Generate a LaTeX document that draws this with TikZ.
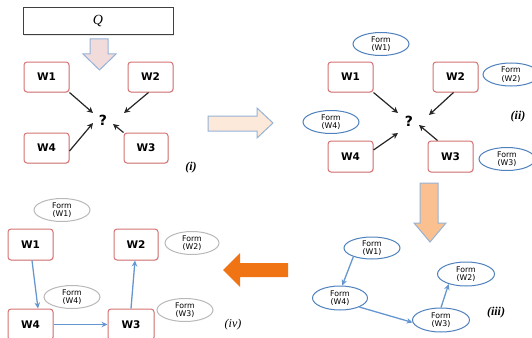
\documentclass[tikz,border=0pt]{standalone}
\usepackage{fontspec}
\setmainfont{Liberation Serif}
\newfontfamily\dvs{DejaVu Sans}
\usetikzlibrary{arrows.meta,calc,shadows,shapes.geometric}
\definecolor{boxred}{RGB}{215,115,115}
\definecolor{formblue}{RGB}{79,129,189}
\definecolor{connblue}{RGB}{102,150,208}
\definecolor{outblue}{RGB}{149,179,215}
\definecolor{pinkfill}{RGB}{242,220,219}
\definecolor{peachlt}{RGB}{253,233,217}
\definecolor{peach}{RGB}{250,192,144}
\definecolor{orng}{RGB}{240,115,20}
\tikzset{
  wbox/.style={draw=boxred, line width=1pt, fill=white, rounded corners=3pt,
    minimum width=45pt, minimum height=30pt, inner sep=0pt,
    font=\dvs\bfseries\fontsize{10.5}{12}\selectfont,
    drop shadow={shadow xshift=0.8pt, shadow yshift=-0.8pt, opacity=0.2}},
  formb/.style={ellipse, draw=formblue, line width=1pt, fill=white,
    minimum width=56pt, minimum height=23pt, inner sep=0pt, align=center,
    font=\dvs\fontsize{7.8}{8.6}\selectfont},
  formg/.style={formb, draw=gray!55},
  blk/.style={-{Stealth[length=6pt,width=6pt]}, line width=1.2pt, black!85},
  blu/.style={-{Stealth[length=6pt,width=5.5pt]}, line width=1.3pt, connblue},
  qmark/.style={font=\dvs\bfseries\fontsize{14}{15}\selectfont, inner sep=0pt},
  lab/.style={font=\itshape\fontsize{12}{13}\selectfont, inner sep=0pt},
  blabel/.style={lab, font=\bfseries\itshape\fontsize{12}{13}\selectfont},
  blockarrow/.style={line width=1pt, draw=outblue, line join=miter}
}
\begin{document}
\begin{tikzpicture}[x=1pt,y=-1pt]
\useasboundingbox (0,0) rectangle (532,337);

% ---------- panel (i) ----------
\node[draw=black!75, line width=1pt, fill=white, minimum width=150pt, minimum height=27pt,
  inner sep=0pt, font=\itshape\fontsize{14}{15}\selectfont,
  drop shadow={shadow xshift=0.8pt, shadow yshift=-0.8pt, opacity=0.2}] (Q) at (98,21.5) {Q};
\filldraw[blockarrow, fill=pinkfill] (90,39) -- (108,39) -- (108,54) -- (116,54) -- (99.5,70)
  -- (83,54) -- (90,54) -- cycle;
\node[wbox] (W1i) at (46.5,77) {W1};
\node[wbox] (W2i) at (150.5,77) {W2};
\node[wbox] (W4i) at (46.5,148) {W4};
\node[wbox, minimum width=44pt] (W3i) at (146,148) {W3};
\node[qmark] (qi) at (103,120) {?};
\draw[blk] (W1i.south east) -- ($(qi)+(-10,-7)$);
\draw[blk] ($(W2i.south)+(-2,0)$) -- ($(qi)+(21,-7)$);
\draw[blk] ($(W4i.east)+(0,3)$) -- ($(qi)+(-10,3)$);
\draw[blk] (W3i.north west) -- ($(qi)+(10,4)$);
\node[blabel] (li) at (191,168) {(i)};

% arrow (i) -> (ii)
\filldraw[blockarrow, fill=peachlt] (208,116) -- (257,116) -- (257,108) -- (273,123)
  -- (257,138) -- (257,131) -- (208,131) -- cycle;

% ---------- panel (ii) ----------
\node[formb] (FW1ii) at (381,44) {Form\\(W1)};
\node[wbox] (W1ii) at (350.5,77) {W1};
\node[wbox] (W2ii) at (455.5,77) {W2};
\node[formb] (FW2ii) at (511,74.5) {Form\\(W2)};
\node[formb] (FW4ii) at (331,122) {Form\\(W4)};
\node[wbox, minimum height=31pt] (W4ii) at (350.5,156.5) {W4};
\node[wbox, minimum height=31pt] (W3ii) at (450.5,156.5) {W3};
\node[formb] (FW3ii) at (507,159) {Form\\(W3)};
\node[qmark] (qii) at (409,121) {?};
\draw[blk] (W1ii.south east) -- ($(qii)+(-11,-8)$);
\draw[blk] ($(W2ii.south)+(-2,0)$) -- ($(qii)+(20,-6)$);
\draw[blk] ($(W4ii.east)+(0,-6.5)$) -- ($(qii)+(-11,12)$);
\draw[blk] ($(W3ii.north west)+(10,0)$) -- ($(qii)+(10,4)$);
\node[blabel] (lii) at (518,117) {(ii)};

% arrow (ii) -> (iii)
\filldraw[blockarrow, fill=peach] (420,183) -- (438,183) -- (438,223) -- (446,223) -- (430,242)
  -- (414,223) -- (420,223) -- cycle;

% ---------- panel (iii) ----------
\node[formb, minimum height=22pt] (FW1iii) at (372,248) {Form\\(W1)};
\node[formb, minimum width=55pt, minimum height=24pt] (FW4iii) at (340,298) {Form\\(W4)};
\node[formb, minimum width=57pt, minimum height=24pt] (FW3iii) at (441,320) {Form\\(W3)};
\node[formb, minimum width=57pt, minimum height=24pt] (FW2iii) at (466,274) {Form\\(W2)};
\draw[blu] (FW1iii.205) -- (FW4iii.80);
\draw[blu] (FW4iii.335) -- (FW3iii.185);
\draw[blu] (FW3iii.north) -- (FW2iii.210);
\node[blabel] (liii) at (496,313) {(iii)};

% arrow (iii) -> (iv)
\fill[orng] (288,263) -- (240,263) -- (240,253) -- (223,270) -- (240,287) -- (240,277)
  -- (288,277) -- cycle;

% ---------- panel (iv) ----------
\node[formg] (FW1iv) at (62,210) {Form\\(W1)};
\node[wbox, minimum height=31pt] (W1iv) at (30.5,244.5) {W1};
\node[wbox, minimum width=44pt, minimum height=31pt] (W2iv) at (136,244.5) {W2};
\node[formg, minimum width=54pt] (FW2iv) at (192,243) {Form\\(W2)};
\node[formg] (FW4iv) at (72,297) {Form\\(W4)};
\node[formg] (FW3iv) at (185,310) {Form\\(W3)};
\node[wbox, minimum height=31pt] (W4iv) at (30.5,324.5) {W4};
\node[wbox, minimum width=46pt, minimum height=31pt] (W3iv) at (131,324.5) {W3};
\draw[blu] ($(W1iv.south)+(1.5,0)$) -- ($(W4iv.north)+(7.5,0)$);
\draw[blu] (W4iv.east) -- (W3iv.west);
\draw[blu] (W3iv.north) -- ($(W2iv.south)+(-1,0)$);
\node[lab] (liv) at (233,325) {(iv)};
\end{tikzpicture}
\end{document}
